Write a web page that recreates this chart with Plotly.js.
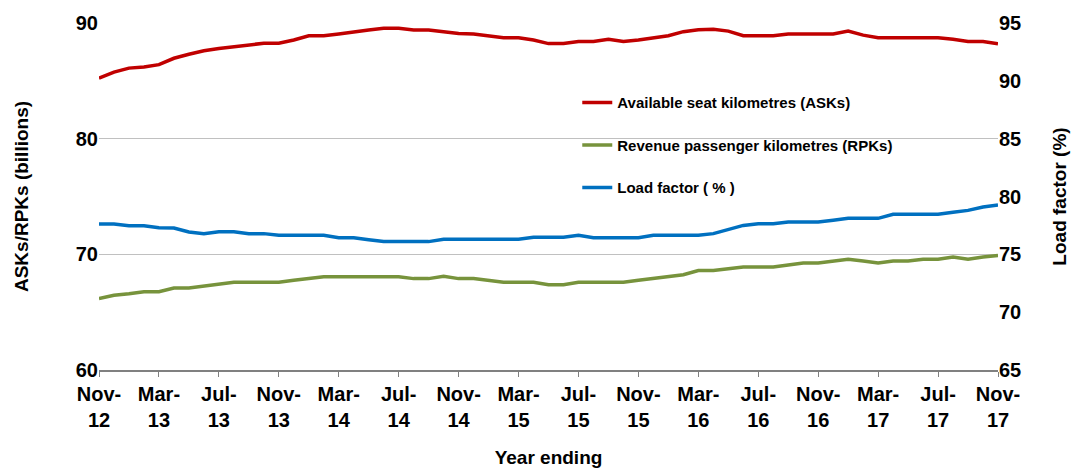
<!DOCTYPE html>
<html>
<head>
<meta charset="utf-8">
<script src="https://cdn.plot.ly/plotly-3.0.1.min.js"></script>
<style>html,body{margin:0;padding:0;background:#fff;}#chart{width:1077px;height:468px;}</style>
</head>
<body>
<div id="chart"></div>
<script>
// Monthly categories, Nov-12 .. Nov-17
const monthNames = ['Jan','Feb','Mar','Apr','May','Jun','Jul','Aug','Sep','Oct','Nov','Dec'];
const months = [];
for (let k = 0; k < 61; k++) {
  const m = (10 + k) % 12;
  const y = 12 + Math.floor((10 + k) / 12);
  months.push(monthNames[m] + '-' + y);
}

// Available seat kilometres (billions)
const asks = [85.23,85.75,86.1,86.2,86.4,86.95,87.3,87.6,87.8,87.96,88.1,88.25,88.25,88.53,88.9,88.9,89.05,89.25,89.4,89.54,
  89.54,89.4,89.4,89.25,89.1,89.05,88.9,88.73,88.73,88.53,88.22,88.22,88.4,88.4,88.6,88.4,88.53,88.73,88.9,89.25,
  89.42,89.45,89.3,88.9,88.9,88.9,89.05,89.05,89.05,89.05,89.3,88.95,88.73,88.73,88.73,88.73,88.73,88.6,88.4,88.4,88.2];

// Revenue passenger kilometres (billions)
const rpks = [66.17,66.46,66.6,66.77,66.77,67.09,67.1,67.26,67.43,67.58,67.58,67.58,67.58,67.75,67.93,68.07,68.07,68.07,68.07,68.07,
  68.07,67.9,67.9,68.1,67.9,67.9,67.75,67.58,67.58,67.58,67.38,67.38,67.58,67.58,67.58,67.58,67.75,67.9,68.07,68.24,
  68.6,68.6,68.76,68.9,68.9,68.9,69.08,69.25,69.25,69.42,69.57,69.42,69.25,69.42,69.42,69.57,69.57,69.77,69.57,69.77,69.91];

// Load factor (%)
const loadFactor = [77.62,77.62,77.48,77.48,77.3,77.28,76.93,76.79,76.95,76.95,76.79,76.79,76.64,76.64,76.64,76.64,76.44,76.44,76.27,76.1,
  76.1,76.1,76.1,76.3,76.3,76.3,76.3,76.3,76.3,76.47,76.47,76.47,76.64,76.44,76.44,76.44,76.44,76.64,76.64,76.64,
  76.64,76.79,77.13,77.5,77.65,77.65,77.79,77.79,77.79,77.94,78.11,78.11,78.11,78.46,78.46,78.46,78.46,78.63,78.8,79.09,79.26];

// Tick labels
const tickMonths = ['Nov-12','Mar-13','Jul-13','Nov-13','Mar-14','Jul-14','Nov-14','Mar-15','Jul-15','Nov-15','Mar-16','Jul-16','Nov-16','Mar-17','Jul-17','Nov-17'];
const tickText = tickMonths.map(s => s.replace('-', '-<br>'));

const FONT = 'Liberation Sans, Arial, sans-serif';

const traces = [
  {x: months, y: asks, name: 'Available seat kilometres (ASKs)', type: 'scatter', mode: 'lines',
   line: {color: '#C00000', width: 3.5}, legendgroup: 'a', yaxis: 'y'},
  {x: months, y: rpks, name: 'Revenue passenger kilometres (RPKs)', type: 'scatter', mode: 'lines',
   line: {color: '#77933C', width: 3.5}, legendgroup: 'b', yaxis: 'y'},
  {x: months, y: loadFactor, name: 'Load factor ( % )', type: 'scatter', mode: 'lines',
   line: {color: '#0070C0', width: 3.5}, legendgroup: 'c', yaxis: 'y2'}
];

const layout = {
  width: 1077, height: 468,
  margin: {l: 99, r: 79, t: 23, b: 98},
  paper_bgcolor: '#ffffff', plot_bgcolor: '#ffffff',
  font: {family: FONT, color: '#000', weight: 'bold'},
  showlegend: true,
  legend: {x: 0.532, y: 0.818, xanchor: 'left', yanchor: 'top', bgcolor: 'rgba(0,0,0,0)',
    font: {family: FONT, size: 15, color: '#000', weight: 'bold'},
    traceorder: 'grouped', tracegroupgap: 20},
  xaxis: {
    type: 'category', range: [0, 60],
    tickmode: 'array', tickvals: tickMonths, ticktext: tickText,
    tickfont: {family: FONT, size: 20, color: '#000', weight: 'bold'},
    ticks: 'outside', ticklen: 5, tickcolor: '#808080', tickwidth: 1,
    showline: true, linecolor: '#808080', linewidth: 1.5,
    showgrid: false, zeroline: false,
    title: {text: 'Year ending', font: {family: FONT, size: 19, color: '#000', weight: 'bold'}, standoff: 22}
  },
  yaxis: {
    range: [60, 90], tickvals: [60, 70, 80, 90],
    tickfont: {family: FONT, size: 20, color: '#000', weight: 'bold'},
    showgrid: true, gridcolor: '#C0C0C0', gridwidth: 1.5,
    zeroline: false, showline: false, ticks: '',
    title: {text: 'ASKs/RPKs (billions)', font: {family: FONT, size: 19, color: '#000', weight: 'bold'}, standoff: 42}
  },
  yaxis2: {
    overlaying: 'y', side: 'right', range: [65, 95], tickvals: [65, 70, 75, 80, 85, 90, 95],
    tickfont: {family: FONT, size: 20, color: '#000', weight: 'bold'},
    showgrid: false, zeroline: false, showline: false, ticks: '',
    title: {text: 'Load factor (%)', font: {family: FONT, size: 19, color: '#000', weight: 'bold'}, standoff: 32}
  }
};

Plotly.newPlot('chart', traces, layout, {staticPlot: true, displayModeBar: false});
</script>
</body>
</html>
